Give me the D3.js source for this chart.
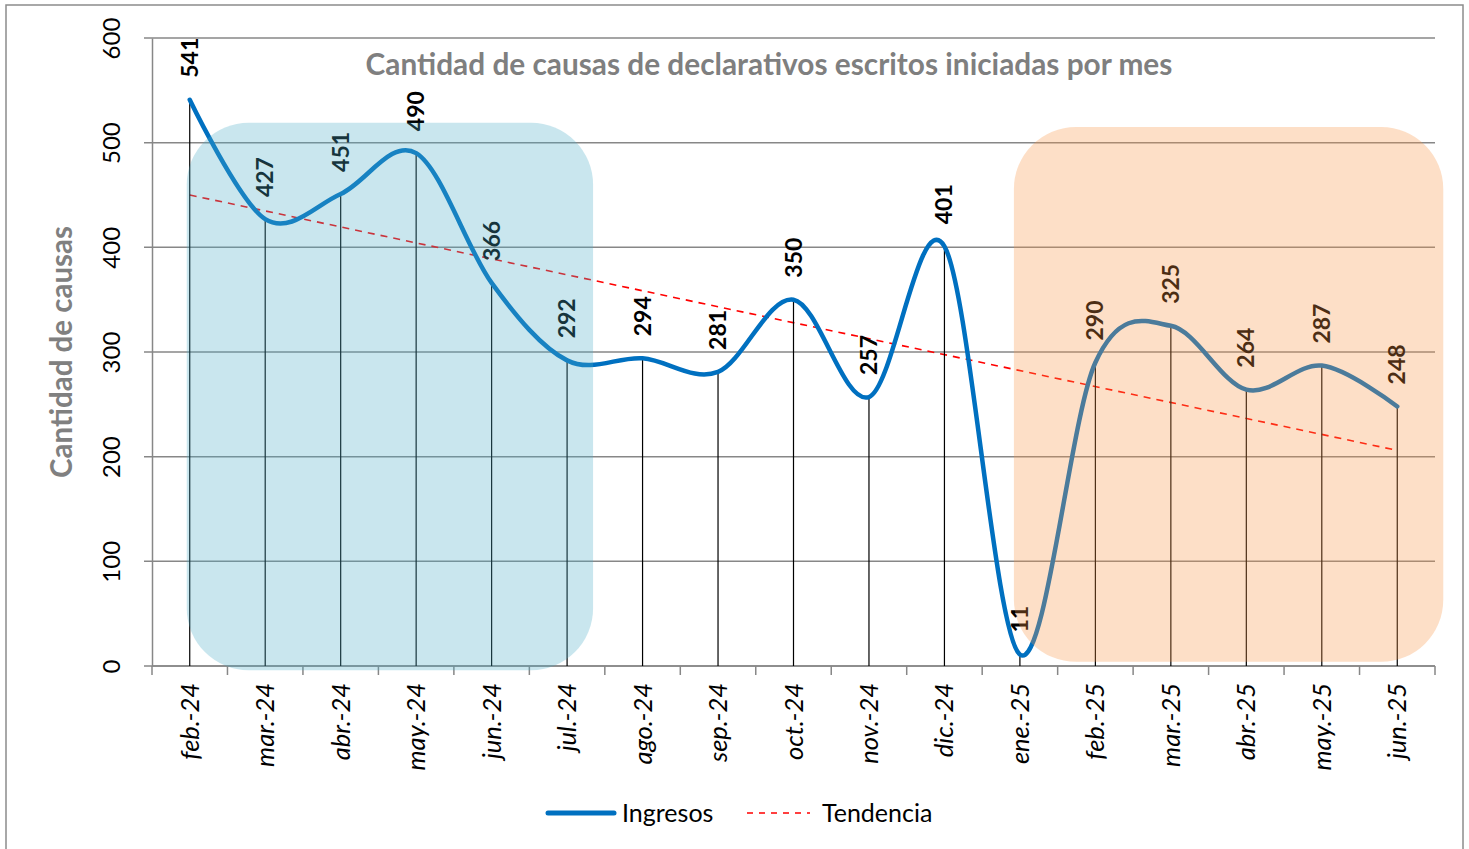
<!DOCTYPE html>
<html>
<head>
<meta charset="utf-8">
<script src="https://cdn.jsdelivr.net/npm/d3@7"></script>
<style>
  body { margin: 0; background: #fff; }
  text { font-family: Lato, "Open Sans", sans-serif; }
</style>
</head>
<body>
<svg width="1469" height="849"></svg>
<script>
// Data
const months = ["feb.-24", "mar.-24", "abr.-24", "may.-24", "jun.-24", "jul.-24", "ago.-24", "sep.-24",
                "oct.-24", "nov.-24", "dic.-24", "ene.-25", "feb.-25", "mar.-25", "abr.-25", "may.-25", "jun.-25"];
const ingresos = [541, 427, 451, 490, 366, 292, 294, 281, 350, 257, 401, 11, 290, 325, 264, 287, 248];
const trendStartEnd = [450, 206]; // dashed trend line, first and last month
const yTicks = [0, 100, 200, 300, 400, 500, 600];

// Shaded periods (semi transparent boxes laid over the chart)
const periodFrom = ["feb.-24", "ene.-25"];
const periodTo = ["jul.-24", "jun.-25"];
const periodTop = [519, 515];
const periodBottom = [-4, 4];
const periodColor = ["#4BACC6", "#F79646"];

const title = "Cantidad de causas de declarativos escritos iniciadas por mes";

function drawChart() {
    const svg = d3.select("svg"),
          margin = {top: 38, right: 34, bottom: 183, left: 152},
          width = +svg.attr("width"),
          height = +svg.attr("height");

    const x = d3.scaleBand()
        .domain(months)
        .range([margin.left, width - margin.right])
        .padding(0);
    const cx = m => x(m) + x.bandwidth() / 2;

    const y = d3.scaleLinear()
        .domain([0, 600])
        .range([height - margin.bottom, margin.top]);

    const gridColor = "#878787";

    // Outer frame
    svg.append("rect")
        .attr("x", 6).attr("y", 5)
        .attr("width", width - 12).attr("height", height)
        .attr("fill", "none").attr("stroke", "#8c8c8c").attr("stroke-width", 1.5);

    // Gridlines
    svg.append("g").selectAll("line")
        .data(yTicks)
        .join("line")
        .attr("x1", margin.left - 8).attr("x2", width - margin.right)
        .attr("y1", d => y(d)).attr("y2", d => y(d))
        .attr("stroke", gridColor).attr("stroke-width", 1.5);

    // Y axis
    const yAxis = svg.append("g")
        .attr("transform", `translate(${margin.left},0)`)
        .call(d3.axisLeft(y).tickValues(yTicks).tickSize(0).tickFormat(d3.format("d")));
    yAxis.select(".domain").attr("stroke", gridColor).attr("stroke-width", 1.5);
    yAxis.selectAll("text")
        .attr("x", 0).attr("y", 0).attr("dy", 0)
        .attr("text-anchor", "middle")
        .attr("transform", "translate(-32,0) rotate(-90)")
        .attr("fill", "#000")
        .attr("font-size", 24);

    // X axis: baseline, boundary ticks and labels
    const xAxis = svg.append("g")
        .attr("transform", `translate(0,${y(0)})`);
    xAxis.append("line")
        .attr("x1", margin.left).attr("x2", width - margin.right)
        .attr("stroke", gridColor).attr("stroke-width", 1.5);
    xAxis.selectAll(".tick-mark")
        .data(months.concat([null]))
        .join("line")
        .attr("class", "tick-mark")
        .attr("x1", d => d ? x(d) : x.range()[1])
        .attr("x2", d => d ? x(d) : x.range()[1])
        .attr("y1", 0).attr("y2", 9)
        .attr("stroke", gridColor).attr("stroke-width", 1.5);
    xAxis.selectAll(".xlabel")
        .data(months)
        .join("text")
        .attr("class", "xlabel")
        .attr("transform", d => `translate(${cx(d) + 9},17) rotate(-90)`)
        .attr("text-anchor", "end")
        .attr("font-style", "italic")
        .attr("font-size", 25.5)
        .attr("fill", "#000")
        .text(d => d);

    // Trend line
    svg.append("line")
        .attr("x1", cx(months[0])).attr("y1", y(trendStartEnd[0]))
        .attr("x2", cx(months[months.length - 1])).attr("y2", y(trendStartEnd[1]))
        .attr("stroke", "#ff0000").attr("stroke-width", 1.6)
        .attr("stroke-dasharray", "7,6");

    // Drop lines
    svg.append("g").selectAll("line")
        .data(months)
        .join("line")
        .attr("x1", d => cx(d)).attr("x2", d => cx(d))
        .attr("y1", (d, i) => y(ingresos[i])).attr("y2", y(0))
        .attr("stroke", "#000").attr("stroke-width", 1.2);

    // Ingresos line (smoothed)
    const line = d3.line()
        .x((d, i) => cx(months[i]))
        .y(d => y(d))
        .curve(d3.curveCatmullRom.alpha(0));
    svg.append("path")
        .datum(ingresos)
        .attr("fill", "none")
        .attr("stroke", "#0070C0")
        .attr("stroke-width", 4.5)
        .attr("stroke-linecap", "round")
        .attr("stroke-linejoin", "round")
        .attr("d", line);

    // Data labels
    svg.append("g").selectAll("text")
        .data(ingresos)
        .join("text")
        .attr("transform", (d, i) => `translate(${cx(months[i]) + 8},${y(d) - 22}) rotate(-90)`)
        .attr("font-weight", "bold")
        .attr("font-size", 23)
        .attr("fill", "#000")
        .text(d => d);

    // Shaded periods on top
    periodFrom.forEach((from, i) => {
        const left = cx(from) - (i === 0 ? 3 : 6);
        const right = cx(periodTo[i]) + (i === 0 ? 26 : 46);
        svg.append("rect")
            .attr("x", left).attr("y", y(periodTop[i]))
            .attr("width", right - left)
            .attr("height", y(periodBottom[i]) - y(periodTop[i]))
            .attr("rx", 62).attr("ry", 62)
            .attr("fill", periodColor[i]).attr("fill-opacity", 0.3);
    });

    // Title
    svg.append("text")
        .attr("x", 769).attr("y", 75)
        .attr("text-anchor", "middle")
        .attr("font-weight", "bold")
        .attr("font-size", 29.8)
        .attr("fill", "#7f7f7f")
        .text(title);

    // Y axis title
    svg.append("text")
        .attr("transform", `translate(72,${(y(0) + y(600)) / 2 }) rotate(-90)`)
        .attr("text-anchor", "middle")
        .attr("font-weight", "bold")
        .attr("font-size", 29.5)
        .attr("fill", "#808080")
        .text("Cantidad de causas");

    // Legend
    const legend = svg.append("g").attr("transform", "translate(548,813)");
    legend.append("line").attr("x1", 0).attr("x2", 66)
        .attr("stroke", "#0070C0").attr("stroke-width", 5).attr("stroke-linecap", "round");
    legend.append("text").attr("x", 74).attr("y", 9).attr("font-size", 25).text("Ingresos");
    legend.append("line").attr("x1", 199).attr("x2", 262)
        .attr("stroke", "#ff0000").attr("stroke-width", 1.6).attr("stroke-dasharray", "6,6");
    legend.append("text").attr("x", 274).attr("y", 9).attr("font-size", 25).text("Tendencia");
}

drawChart();
</script>
</body>
</html>
